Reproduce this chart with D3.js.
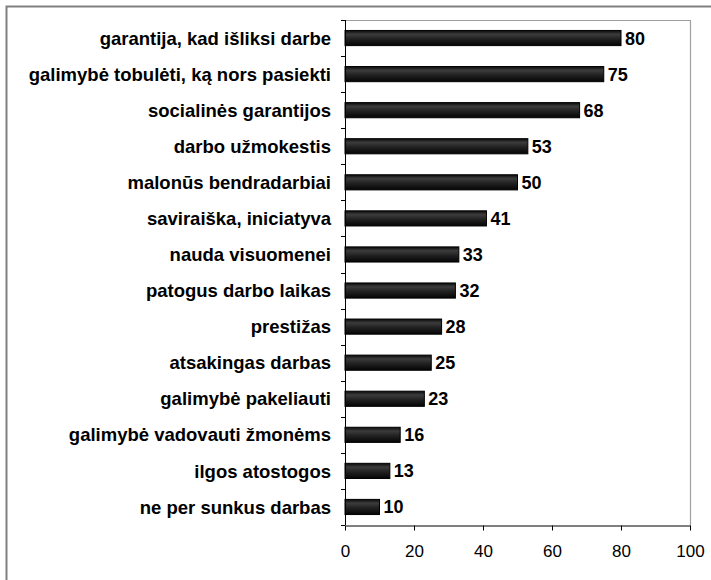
<!DOCTYPE html>
<html>
<head>
<meta charset="utf-8">
<script src="https://cdn.jsdelivr.net/npm/d3@7/dist/d3.min.js"></script>
<style>
  html, body { margin: 0; padding: 0; background: #fff; }
  svg { display: block; }
</style>
</head>
<body>
<svg id="chart" width="711" height="580"></svg>
<script>
// Work values, ordered top to bottom
const categories = [
  "garantija, kad išliksi darbe",
  "galimybė tobulėti, ką nors pasiekti",
  "socialinės garantijos",
  "darbo užmokestis",
  "malonūs bendradarbiai",
  "saviraiška, iniciatyva",
  "nauda visuomenei",
  "patogus darbo laikas",
  "prestižas",
  "atsakingas darbas",
  "galimybė pakeliauti",
  "galimybė vadovauti žmonėms",
  "ilgos atostogos",
  "ne per sunkus darbas"
];
const values = [80, 75, 68, 53, 50, 41, 33, 32, 28, 25, 23, 16, 13, 10];
const xTicks = [0, 20, 40, 60, 80, 100];

const svg = d3.select("#chart");
const plot = { left: 345, right: 690, top: 20, bottom: 525 };
const font = "'Liberation Sans', Arial, sans-serif";

// outer frame
svg.append("path")
  .attr("d", "M6.5,580 V6.5 H711")
  .attr("fill", "none")
  .attr("stroke", "#808080")
  .attr("stroke-width", 2);

const x = d3.scaleLinear().domain([0, 100]).range([plot.left, plot.right]);
const y = d3.scaleBand().domain(categories).range([plot.top, plot.bottom]).paddingInner(0.58).paddingOuter(0.29);

// bar shading
const defs = svg.append("defs");
const grad = defs.append("linearGradient").attr("id", "barFill")
  .attr("x1", 0).attr("y1", 0).attr("x2", 0).attr("y2", 1);
grad.append("stop").attr("offset", "0%").attr("stop-color", "#0a0a0a");
grad.append("stop").attr("offset", "25%").attr("stop-color", "#3c3c3c");
grad.append("stop").attr("offset", "55%").attr("stop-color", "#222");
grad.append("stop").attr("offset", "100%").attr("stop-color", "#050505");

// plot frame (top and right)
svg.append("path")
  .attr("d", `M${plot.left},${plot.top + 0.5} H${plot.right + 0.5} V${plot.bottom}`)
  .attr("fill", "none")
  .attr("stroke", "#a0a0a0")
  .attr("stroke-width", 1.2);

// bars
svg.append("g").selectAll("rect")
  .data(categories)
  .join("rect")
  .attr("x", x(0))
  .attr("y", (d) => y(d))
  .attr("width", (d, i) => x(values[i]) - x(0))
  .attr("height", y.bandwidth())
  .attr("fill", "url(#barFill)")
  .attr("stroke", "#000")
  .attr("stroke-width", 1);

// value labels
svg.append("g").selectAll("text")
  .data(categories)
  .join("text")
  .attr("x", (d, i) => x(values[i]) + 4)
  .attr("y", (d) => y(d) + y.bandwidth() / 2)
  .attr("dy", "0.36em")
  .attr("font-family", font)
  .attr("font-weight", "bold")
  .attr("font-size", 18)
  .attr("fill", "#000")
  .text((d, i) => values[i]);

// category axis
const yTickPos = d3.range(categories.length + 1).map((i) => plot.top + i * y.step());
const yAxis = svg.append("g");
yAxis.append("line")
  .attr("x1", plot.left + 0.5).attr("x2", plot.left + 0.5)
  .attr("y1", plot.top).attr("y2", plot.bottom)
  .attr("stroke", "#000");
yAxis.selectAll("line.tick")
  .data(yTickPos)
  .join("line")
  .attr("class", "tick")
  .attr("x1", plot.left - 4).attr("x2", plot.left)
  .attr("y1", (d) => Math.round(d) + 0.5).attr("y2", (d) => Math.round(d) + 0.5)
  .attr("stroke", "#000");
yAxis.selectAll("text")
  .data(categories)
  .join("text")
  .attr("x", plot.left - 14)
  .attr("y", (d) => y(d) + y.bandwidth() / 2)
  .attr("dy", "0.36em")
  .attr("text-anchor", "end")
  .attr("font-family", font)
  .attr("font-weight", "bold")
  .attr("font-size", 18.5)
  .attr("fill", "#000")
  .text((d) => d);

// value axis
const xAxis = svg.append("g")
  .attr("transform", `translate(0,${plot.bottom + 0.5})`)
  .call(d3.axisBottom(x).tickValues(xTicks).tickSize(5).tickPadding(14).tickSizeOuter(0));
xAxis.select(".domain").attr("stroke", "#000");
xAxis.selectAll(".tick line").attr("stroke", "#000");
xAxis.selectAll(".tick text")
  .attr("font-family", font)
  .attr("font-size", 17)
  .attr("fill", "#000");
</script>
</body>
</html>
